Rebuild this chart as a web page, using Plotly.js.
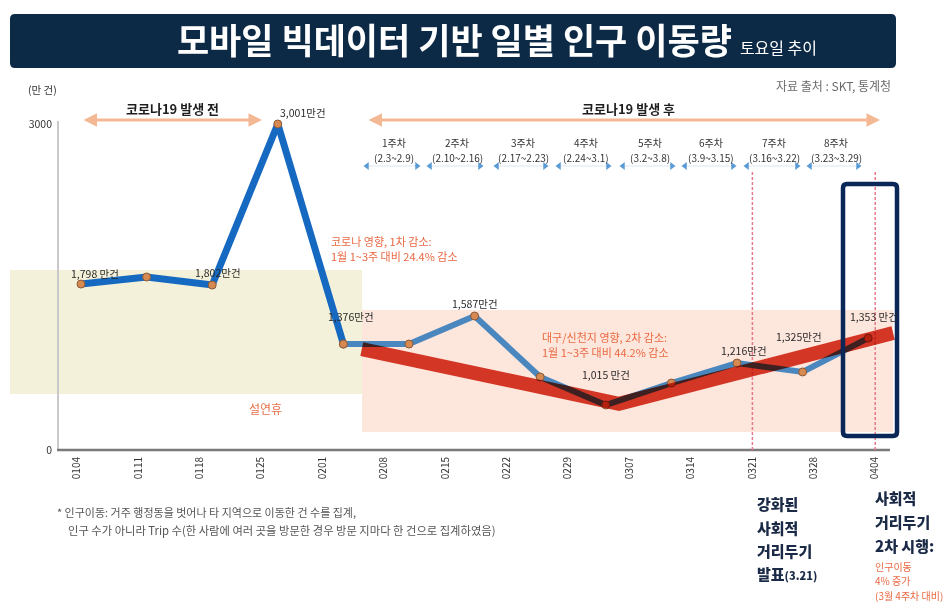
<!DOCTYPE html>
<html>
<head>
<meta charset="utf-8">
<script src="https://cdn.plot.ly/plotly-3.0.1.min.js"></script>
<style>
  html, body { margin: 0; padding: 0; background: #ffffff; }
  #chart { width: 946px; height: 611px; }
</style>
</head>
<body>
<div id="chart"></div>
<script>
// ---------------- DATA ----------------
const dateLabels = ['0104','0111','0118','0125','0201','0208','0215','0222','0229','0307','0314','0321','0328','0404'];
// Saturday observations, in the order drawn (index on x)
const obsIndex = [0,1,2,3,4,5,6,7,8,9,10,11,12];
// values as drawn against the axis (만 건)
const drawnValues = [1527,1592,1518,3000,975,975,1233,672,414,616,800,718,1030];
// value labels printed next to the points
const pointLabels = ['1,798 만건','','1,802만건','3,001만건','1,376만건','','1,587만건','','1,015 만건','','1,216만건','1,325만건','1,353 만건'];
// red emphasis trend (index, 만 건)
const trendX = [4.28, 8.2, 12.38];
const trendY = [929, 425, 1076];
// weekly periods after outbreak
const weekNames = ['1주차','2주차','3주차','4주차','5주차','6주차','7주차','8주차'];
const weekDates = ['2.3~2.9','2.10~2.16','2.17~2.23','2.24~3.1','3.2~3.8','3.9~3.15','3.16~3.22','3.23~3.29'];
const yTickVals = [0, 3000];

const titleMain = '모바일 빅데이터 기반 일별 인구 이동량';
const titleSub = '토요일 추이';
const sourceText = '자료 출처 : SKT, 통계청';
const unitText = '(만 건)';
const periodBefore = '코로나19 발생 전';
const periodAfter = '코로나19 발생 후';
const holidayText = '설연휴';
const drop1Text = ['코로나 영향, 1차 감소:','1월 1~3주 대비 24.4% 감소'];
const drop2Text = ['대구/신천지 영향, 2차 감소:','1월 1~3주 대비 44.2% 감소'];
const footnote = ['* 인구이동: 거주 행정동을 벗어나 타 지역으로 이동한 건 수를 집계,',
                  '인구 수가 아니라 Trip 수(한 사람에 여러 곳을 방문한 경우 방문 지마다 한 건으로 집계하였음)'];
const note1Lines = ['강화된','사회적','거리두기','발표<span style="font-size:11px">(3.21)</span>'];
const note2Lines = ['사회적','거리두기','2차 시행:'];
const note2Sub = ['인구이동','4% 증가','(3월 4주차 대비)'];

// ---------------- LAYOUT HELPERS ----------------
const FONT = 'Noto Sans CJK KR, Noto Sans, sans-serif';
const P = {l:10, r:900, t:60, b:450};
const XR = [(P.l-81)/65.6, (P.r-81)/65.6];
const YR = [0, (P.b-P.t)*3000/326];
const dx = px => XR[0] + (px-P.l)/(P.r-P.l)*(XR[1]-XR[0]);
const dy = py => YR[0] + (P.b-py)/(P.b-P.t)*(YR[1]-YR[0]);
const fx = px => (px-P.l)/(P.r-P.l);
const fy = py => (P.b-py)/(P.b-P.t);
const tickVals = dateLabels.map((_,k) => dx(77 + k*61.4));

function roundRect(x0,y0,x1,y1,r){
  const rx = r/(P.r-P.l), ry = r/(P.b-P.t);
  const X0=fx(x0), X1=fx(x1), Y0=fy(y1), Y1=fy(y0);
  return `M${X0+rx},${Y1} L${X1-rx},${Y1} Q${X1},${Y1} ${X1},${Y1-ry} L${X1},${Y0+ry} Q${X1},${Y0} ${X1-rx},${Y0} L${X0+rx},${Y0} Q${X0},${Y0} ${X0},${Y0+ry} L${X0},${Y1-ry} Q${X0},${Y1} ${X0+rx},${Y1} Z`;
}

// ---------------- TRACES ----------------
const weekSpans = [[367,417],[430,480],[497,545],[559,608],[623,672],[685,733],[747,797],[810,858]];
const wx = [], wy = [], wsym = [];
weekSpans.forEach(([a,b]) => {
  wx.push(dx(a), dx(b), null); wy.push(dy(166), dy(166), null);
  wsym.push('triangle-left', 'triangle-right', 'circle');
});
const weekArrows = {
  x: wx, y: wy, type:'scatter', mode:'lines+markers', cliponaxis:false, connectgaps:false,
  line:{color:'#d9e6f2', width:1.2},
  marker:{symbol: wsym, size: 7, color:'#5b9bd5', line:{width:0}}, hoverinfo:'skip'
};

const splitAt = 4;
const markerStyle = {size: 8, color: '#d68a52', line: {width: 1, color: '#8a5a3a'}};
const vivid = {
  x: obsIndex.slice(0, splitAt+1), y: drawnValues.slice(0, splitAt+1),
  type: 'scatter', mode: 'lines+markers', cliponaxis: false,
  line: {color: '#1669c1', width: 7}, marker: markerStyle, hoverinfo: 'skip'
};
const muted = {
  x: obsIndex.slice(splitAt), y: drawnValues.slice(splitAt),
  type: 'scatter', mode: 'lines+markers', cliponaxis: false,
  line: {color: '#4a87bf', width: 6}, marker: markerStyle, hoverinfo: 'skip'
};
const trend = {
  x: trendX, y: trendY, type: 'scatter', mode: 'lines', cliponaxis: false,
  line: {color: '#d63b2b', width: 14}, hoverinfo: 'skip'
};

// ---------------- ANNOTATIONS ----------------
const ann = [];
const txt = (x, y, text, opt={}) => Object.assign({
  xref:'paper', yref:'paper', x: fx(x), y: fy(y), text, showarrow:false,
  xanchor:'center', yanchor:'middle', font:{family:FONT, size:11, color:'#333'}
}, opt);

ann.push(txt(893, 85, sourceText, {xanchor:'right', font:{family:FONT, size:12, color:'#6a6a6a'}}));
ann.push(txt(42, 90, unitText, {font:{family:FONT, size:10.5, color:'#333'}}));
ann.push(txt(172, 108, periodBefore, {font:{family:FONT, size:13, color:'#1e1e1e', weight:700}}));
ann.push(txt(628, 108, periodAfter, {font:{family:FONT, size:13, color:'#1e1e1e', weight:700}}));

const bigArrow = (a, b) => ({
  xref:'x', yref:'y', axref:'x', ayref:'y', x: dx(b), y: dy(120), ax: dx(a), ay: dy(120),
  text:'', showarrow:true, arrowside:'end+start', arrowhead:2, arrowsize:0.9, arrowwidth:3,
  arrowcolor:'#f3b894'
});
ann.push(bigArrow(82, 262));
ann.push(bigArrow(367, 880));

weekNames.forEach((w, i) => {
  const [a, b] = weekSpans[i];
  ann.push(txt((a+b)/2 + 2, 142, w, {font:{family:FONT, size:10, color:'#333'}}));
  ann.push(txt((a+b)/2 + 2, 157, `(${weekDates[i]})`, {font:{family:FONT, size:10, color:'#333'}}));
});

const labelShift = [[14,11],[0,0],[6,13],[25,12],[8,28],[0,0],[0,13],[0,0],[0,31],[0,0],[7,13],[-4,35],[6,22]];
pointLabels.forEach((t, i) => {
  if (!t) return;
  ann.push({xref:'x', yref:'y', x: obsIndex[i], y: drawnValues[i], text: t, showarrow:false,
    xshift: labelShift[i][0], yshift: labelShift[i][1], xanchor:'center', yanchor:'middle',
    font:{family:FONT, size:10.5, color:'#2a2a2a'}});
});

ann.push(txt(329, 241, drop1Text[0], {xanchor:'left', font:{family:FONT, size:11, color:'#ea6842'}}));
ann.push(txt(329, 256, drop1Text[1], {xanchor:'left', font:{family:FONT, size:11, color:'#ea6842'}}));
ann.push(txt(540, 337, drop2Text[0], {xanchor:'left', font:{family:FONT, size:11, color:'#ea6842'}}));
ann.push(txt(540, 352, drop2Text[1], {xanchor:'left', font:{family:FONT, size:11, color:'#ea6842'}}));
ann.push(txt(265, 408, holidayText, {font:{family:FONT, size:12, color:'#e8704a'}}));

ann.push(txt(55, 512, footnote[0], {xanchor:'left', font:{family:FONT, size:11, color:'#555'}}));
ann.push(txt(66, 530, footnote[1], {xanchor:'left', font:{family:FONT, size:11.3, color:'#555'}}));

const n1y = [503, 527, 550, 573];
note1Lines.forEach((t, i) => ann.push(txt(755, n1y[i], t, {xanchor:'left', font:{family:FONT, size:15, color:'#1b2a47', weight:900}})));
const n2y = [497, 521, 545];
note2Lines.forEach((t, i) => ann.push(txt(873, n2y[i], t, {xanchor:'left', font:{family:FONT, size:15, color:'#1b2a47', weight:900}})));
const n2sy = [566, 580, 595];
note2Sub.forEach((t, i) => ann.push(txt(873, n2sy[i], t, {xanchor:'left', font:{family:FONT, size:10, color:'#ea6842'}})));

// ---------------- SHAPES ----------------
const shapes = [
  {type:'path', xref:'paper', yref:'paper', path: roundRect(10, 14, 896, 68, 5), fillcolor:'#0c2a46', line:{width:0}, layer:'below'},
  {type:'rect', xref:'paper', yref:'paper', x0: fx(10), x1: fx(362), y0: fy(394), y1: fy(270), fillcolor:'#f4f1da', line:{width:0}, layer:'below'},
  {type:'rect', xref:'paper', yref:'paper', x0: fx(362), x1: fx(893), y0: fy(432), y1: fy(310), fillcolor:'#fde6dc', line:{width:0}, layer:'below'},
  {type:'line', xref:'paper', yref:'paper', x0: fx(58), x1: fx(58), y0: fy(450), y1: fy(121), line:{color:'#c9c9c9', width:2}, layer:'below'},
  {type:'line', xref:'paper', yref:'paper', x0: fx(57), x1: fx(890), y0: fy(450), y1: fy(450), line:{color:'#7a7a7a', width:2.5}, layer:'below'},
  {type:'line', xref:'x', yref:'paper', x0: tickVals[11], x1: tickVals[11], y0: fy(450), y1: fy(172), line:{color:'#e8788a', width:1.5, dash:'3px,2px'}, layer:'below'},
  {type:'line', xref:'x', yref:'paper', x0: tickVals[13], x1: tickVals[13], y0: fy(450), y1: fy(172), line:{color:'#e8788a', width:1.5, dash:'3px,2px'}, layer:'below'},
  {type:'path', xref:'paper', yref:'paper', path: roundRect(843, 184, 897, 436, 4), fillcolor:'rgba(0,0,0,0)', line:{color:'#0b2758', width:4.5}, layer:'above'}
];

const layout = {
  width: 946, height: 611,
  margin: {l: P.l, r: 946-P.r, t: P.t, b: 611-P.b, pad: 0},
  paper_bgcolor: '#ffffff', plot_bgcolor: 'rgba(0,0,0,0)',
  showlegend: false,
  title: {
    text: `<b>${titleMain}</b> <span style="font-size:16px;font-weight:400">${titleSub}</span>`,
    x: 497/946, xref:'container', xanchor:'center',
    y: 1 - 42/611, yref:'container', yanchor:'middle',
    font: {family: FONT, size: 35, color: '#ffffff', weight: 900}
  },
  xaxis: {
    range: XR, fixedrange: true, showgrid:false, zeroline:false, showline:false,
    tickmode:'array', tickvals: tickVals, ticktext: dateLabels, tickangle: -90, ticks:'',
    ticklabelstandoff: 4,
    tickfont: {family: FONT, size: 10, color: '#333'}
  },
  yaxis: {
    range: YR, fixedrange: true, showgrid:false, zeroline:false, showline:false,
    anchor:'free', position: fx(58), tickmode:'array', tickvals: yTickVals,
    ticktext: yTickVals.map(String), ticks:'', ticklabelstandoff: 6,
    tickfont: {family: FONT, size: 10.5, color: '#333'}
  },
  shapes, annotations: ann
};

Plotly.newPlot('chart', [weekArrows, vivid, muted, trend], layout, {displayModeBar:false, staticPlot:true}).then(() => {
  const traces = document.querySelectorAll('.scatterlayer .trace');
  if (traces[3]) traces[3].style.mixBlendMode = 'multiply';
});
</script>
</body>
</html>
